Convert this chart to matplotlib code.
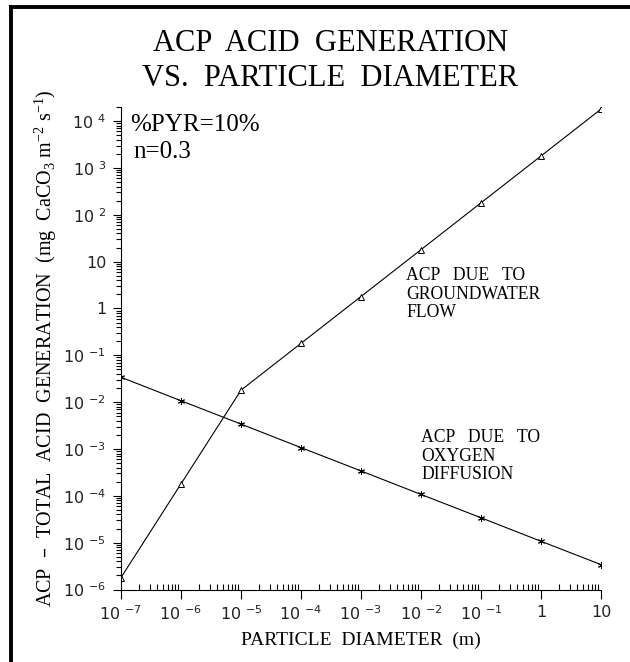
import matplotlib
matplotlib.use("Agg")
import matplotlib.pyplot as plt
from matplotlib.lines import Line2D
from matplotlib.ticker import FixedLocator, FixedFormatter, LogLocator, NullFormatter

# ---- data ----
diameter = [1e-7, 1e-6, 1e-5, 1e-4, 1e-3, 1e-2, 1e-1, 1, 10]
acp_groundwater = [1.8e-6, 1.8e-4, 1.8e-2, 0.18, 1.8, 18, 180, 1800, 18000]
acp_diffusion = [3.4e-2, 1.07e-2, 3.4e-3, 1.07e-3, 3.4e-4, 1.07e-4, 3.4e-5, 1.07e-5, 3.4e-6]

x_ticks = [1e-7, 1e-6, 1e-5, 1e-4, 1e-3, 1e-2, 1e-1, 1, 10]
x_exponents = [-7, -6, -5, -4, -3, -2, -1, 0, 1]
y_ticks = [1e-6, 1e-5, 1e-4, 1e-3, 1e-2, 1e-1, 1, 10, 1e2, 1e3, 1e4]
y_exponents = [-6, -5, -4, -3, -2, -1, 0, 1, 2, 3, 4]


def decade_label(e):
    if e == 0:
        return "1"
    if e == 1:
        return "10"
    return r"10 $^{\mathregular{%d}}$" % e


x_ticklabels = [decade_label(e) for e in x_exponents]
y_ticklabels = [decade_label(e) for e in y_exponents]

title = "ACP  ACID  GENERATION\nVS.  PARTICLE  DIAMETER"
xlabel = "PARTICLE  DIAMETER  (m)"
ylabel = ("ACP  \u2013  TOTAL  ACID  GENERATION  (mg  CaCO$_\\mathregular{3}$ "
          "m$^\\mathregular{-2}$ s$^\\mathregular{-1}$)")
note_pyr = "%PYR=10%"
note_n = "n=0.3"
label_gw = "ACP   DUE   TO\nGROUNDWATER\nFLOW"
label_ox = "ACP   DUE   TO\nOXYGEN\nDIFFUSION"

serif = "Liberation Serif"
sans = "DejaVu Sans"

W, H = 630, 662
fig = plt.figure(figsize=(W / 100, H / 100), dpi=100)
ax = fig.add_axes([121 / W, 1 - 589.5 / H, (601 - 121) / W, (589.5 - 107) / H])

ax.plot(diameter, acp_groundwater, color="black", lw=0.8, marker="^", ms=5,
        mfc="white", mec="black", mew=0.7)
ax.plot(diameter, acp_diffusion, color="black", lw=0.8, marker=(6, 2, 0), ms=5,
        mec="black", mew=0.7)

ax.set_xscale("log")
ax.set_yscale("log")
ax.set_xlim(1e-7, 10)
ax.set_ylim(1e-6, 2e4)

for s in ["top", "right"]:
    ax.spines[s].set_visible(False)
for s in ["left", "bottom"]:
    ax.spines[s].set_linewidth(0.8)

ax.xaxis.set_major_locator(FixedLocator(x_ticks))
ax.xaxis.set_major_formatter(FixedFormatter(x_ticklabels))
ax.yaxis.set_major_locator(FixedLocator(y_ticks))
ax.yaxis.set_major_formatter(FixedFormatter(y_ticklabels))
ax.xaxis.set_minor_locator(LogLocator(base=10, subs=range(2, 10), numticks=20))
ax.yaxis.set_minor_locator(LogLocator(base=10, subs=range(2, 10), numticks=20))
ax.xaxis.set_minor_formatter(NullFormatter())
ax.yaxis.set_minor_formatter(NullFormatter())

ax.tick_params(axis="x", which="major", direction="out", length=6.5, width=0.8,
               pad=4.5, labelsize=11.5)
ax.tick_params(axis="x", which="minor", direction="in", length=4, width=0.8)
ax.tick_params(axis="y", which="major", direction="out", length=5.5, width=0.8,
               pad=5, labelsize=11.5)
ax.tick_params(axis="y", which="minor", direction="out", length=3.5, width=0.8)
for lab in ax.get_xticklabels() + ax.get_yticklabels():
    lab.set_fontfamily(sans)
    lab.set_color("#222222")

ax.set_xlabel(xlabel, fontfamily=serif, fontsize=14, labelpad=6)
ax.set_ylabel(ylabel, fontfamily=serif, fontsize=14.5, labelpad=3)

fig.text(0.524, 1 - 29 / H, title, ha="center", va="top", fontfamily=serif,
         fontsize=22, linespacing=1.25)

ax.text(0.02, 0.985, note_pyr, transform=ax.transAxes, ha="left", va="top",
        fontfamily=serif, fontsize=18)
ax.text(0.026, 0.93, note_n, transform=ax.transAxes, ha="left", va="top",
        fontfamily=serif, fontsize=18)

ax.text(406 / W, 1 - 267 / H, label_gw, transform=fig.transFigure, ha="left",
        va="top", fontfamily=serif, fontsize=12.7, linespacing=1.12)
ax.text(421 / W, 1 - 429 / H, label_ox, transform=fig.transFigure, ha="left",
        va="top", fontfamily=serif, fontsize=12.7, linespacing=1.12)

# partial frame (top and left edges)
fx = 11 / W
fy = 1 - 6.5 / H
fig.add_artist(Line2D([fx, fx], [0, fy], transform=fig.transFigure, color="black",
                      lw=2.8, solid_capstyle="projecting"))
fig.add_artist(Line2D([fx, 1], [fy, fy], transform=fig.transFigure, color="black",
                      lw=2.8, solid_capstyle="projecting"))

fig.savefig("out.png", dpi=100)
